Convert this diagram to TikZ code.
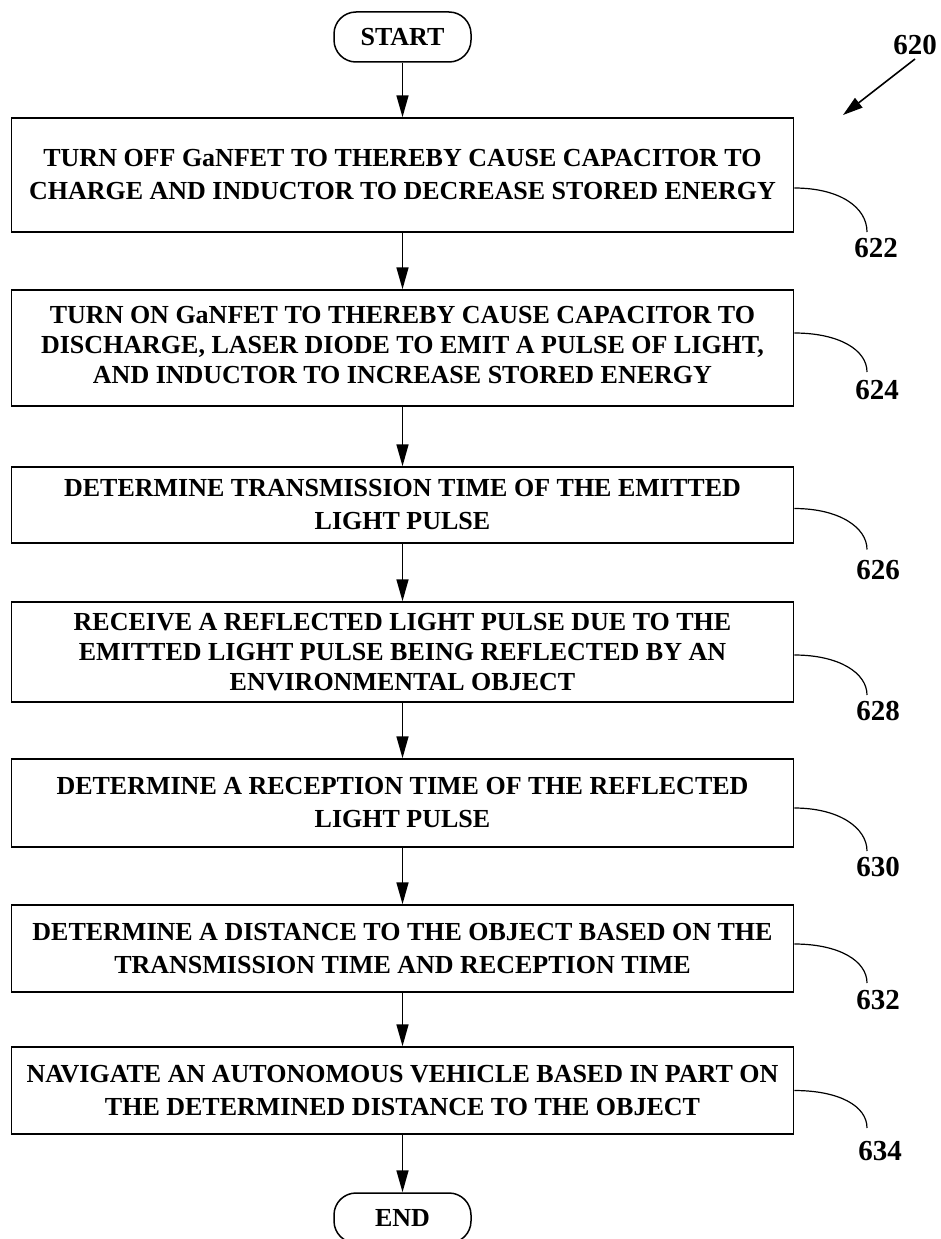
\documentclass[tikz,border=0pt]{standalone}
\usepackage{fontspec}
\setmainfont{Liberation Serif}
\usetikzlibrary{arrows.meta}
\begin{document}
\begin{tikzpicture}[x=1pt,y=-1pt,
  box/.style={draw, line width=1.5pt, rectangle, minimum width=782pt, inner sep=0pt},
  boxtext/.style={inner sep=0pt, align=center, font=\bfseries\fontsize{26}{33}\selectfont},
  boxtextc/.style={inner sep=0pt, align=center, font=\bfseries\fontsize{26}{30}\selectfont},
  term/.style={draw, line width=1.5pt, rounded corners=22pt, minimum width=137pt, minimum height=50pt, inner sep=0pt, font=\bfseries\fontsize{26}{33}\selectfont},
  flow/.style={line width=1.6pt, -{Triangle[length=22pt,width=12pt]}},
  lead/.style={line width=1.2pt},
  ref/.style={font=\bfseries\fontsize{29}{33}\selectfont, inner sep=0pt}]
\useasboundingbox (0,0) rectangle (941,1239);
\clip (0,0) rectangle (941,1239);

\node[term] (start) at (402.5,37) {START};

\node[box, minimum height=114pt] (b1) at (402.5,175) {};
\node[boxtext] (t1) at (b1.center) {TURN OFF GaNFET TO THEREBY CAUSE CAPACITOR TO\\CHARGE AND INDUCTOR TO DECREASE STORED ENERGY};

\node[box, minimum height=116pt] (b2) at (402.5,348) {};
\node[boxtextc, yshift=3pt] (t2) at (b2.center) {TURN ON GaNFET TO THEREBY CAUSE CAPACITOR TO\\DISCHARGE, LASER DIODE TO EMIT A PULSE OF LIGHT,\\AND INDUCTOR TO INCREASE STORED ENERGY};

\node[box, minimum height=76pt] (b3) at (402.5,505) {};
\node[boxtext] (t3) at (b3.center) {DETERMINE TRANSMISSION TIME OF THE EMITTED\\LIGHT PULSE};

\node[box, minimum height=100pt] (b4) at (402.5,652) {};
\node[boxtextc] (t4) at (b4.center) {RECEIVE A REFLECTED LIGHT PULSE DUE TO THE\\EMITTED LIGHT PULSE BEING REFLECTED BY AN\\ENVIRONMENTAL OBJECT};

\node[box, minimum height=88pt] (b5) at (402.5,803) {};
\node[boxtext] (t5) at (b5.center) {DETERMINE A RECEPTION TIME OF THE REFLECTED\\LIGHT PULSE};

\node[box, minimum height=87pt] (b6) at (402.5,948.5) {};
\node[boxtext] (t6) at (b6.center) {DETERMINE A DISTANCE TO THE OBJECT BASED ON THE\\TRANSMISSION TIME AND RECEPTION TIME};

\node[box, minimum height=87pt] (b7) at (402.5,1090.5) {};
\node[boxtext] (t7) at (b7.center) {NAVIGATE AN AUTONOMOUS VEHICLE BASED IN PART ON\\THE DETERMINED DISTANCE TO THE OBJECT};

\node[term] (end) at (402.5,1218) {END};

\draw[flow] (start.south) -- (b1.north);
\draw[flow] (b1.south) -- (b2.north);
\draw[flow] (b2.south) -- (b3.north);
\draw[flow] (b3.south) -- (b4.north);
\draw[flow] (b4.south) -- (b5.north);
\draw[flow] (b5.south) -- (b6.north);
\draw[flow] (b6.south) -- (b7.north);
\draw[flow] (b7.south) -- (end.north);

% reference numerals
\node[ref] (l620) at (915,45) {620};
\coordinate (t620) at (843,115);
\draw[line width=1.6pt, -{Triangle[length=20pt,width=12pt]}] ([yshift=-4pt]l620.south) -- (t620);

\node[ref] (l622) at (876,248) {622};
\node[ref] (l624) at (877,390) {624};
\node[ref] (l626) at (878,570) {626};
\node[ref] (l628) at (878,711) {628};
\node[ref] (l630) at (878,867) {630};
\node[ref] (l632) at (878,1000) {632};
\node[ref] (l634) at (880,1151) {634};

\coordinate (e622) at (867,232);
\coordinate (e624) at (867,372);
\coordinate (e626) at (867,549.5);
\coordinate (e628) at (867,695);
\coordinate (e630) at (867,851);
\coordinate (e632) at (867,983);
\coordinate (e634) at (867,1128);

\draw[lead] ([yshift=-13pt]b1.east) .. controls +(45,0) and +(0,-25) .. (e622);
\draw[lead] ([yshift=15pt]b2.east) .. controls +(45,0) and +(0,-22) .. (e624);
\draw[lead] ([yshift=-3.5pt]b3.east) .. controls +(45,0) and +(0,-22) .. (e626);
\draw[lead] ([yshift=-3pt]b4.east) .. controls +(45,0) and +(0,-22) .. (e628);
\draw[lead] ([yshift=-5pt]b5.east) .. controls +(45,0) and +(0,-23) .. (e630);
\draw[lead] ([yshift=4.5pt]b6.east) .. controls +(45,0) and +(0,-22) .. (e632);
\draw[lead] (b7.east) .. controls +(45,0) and +(0,-22) .. (e634);
\end{tikzpicture}
\end{document}
